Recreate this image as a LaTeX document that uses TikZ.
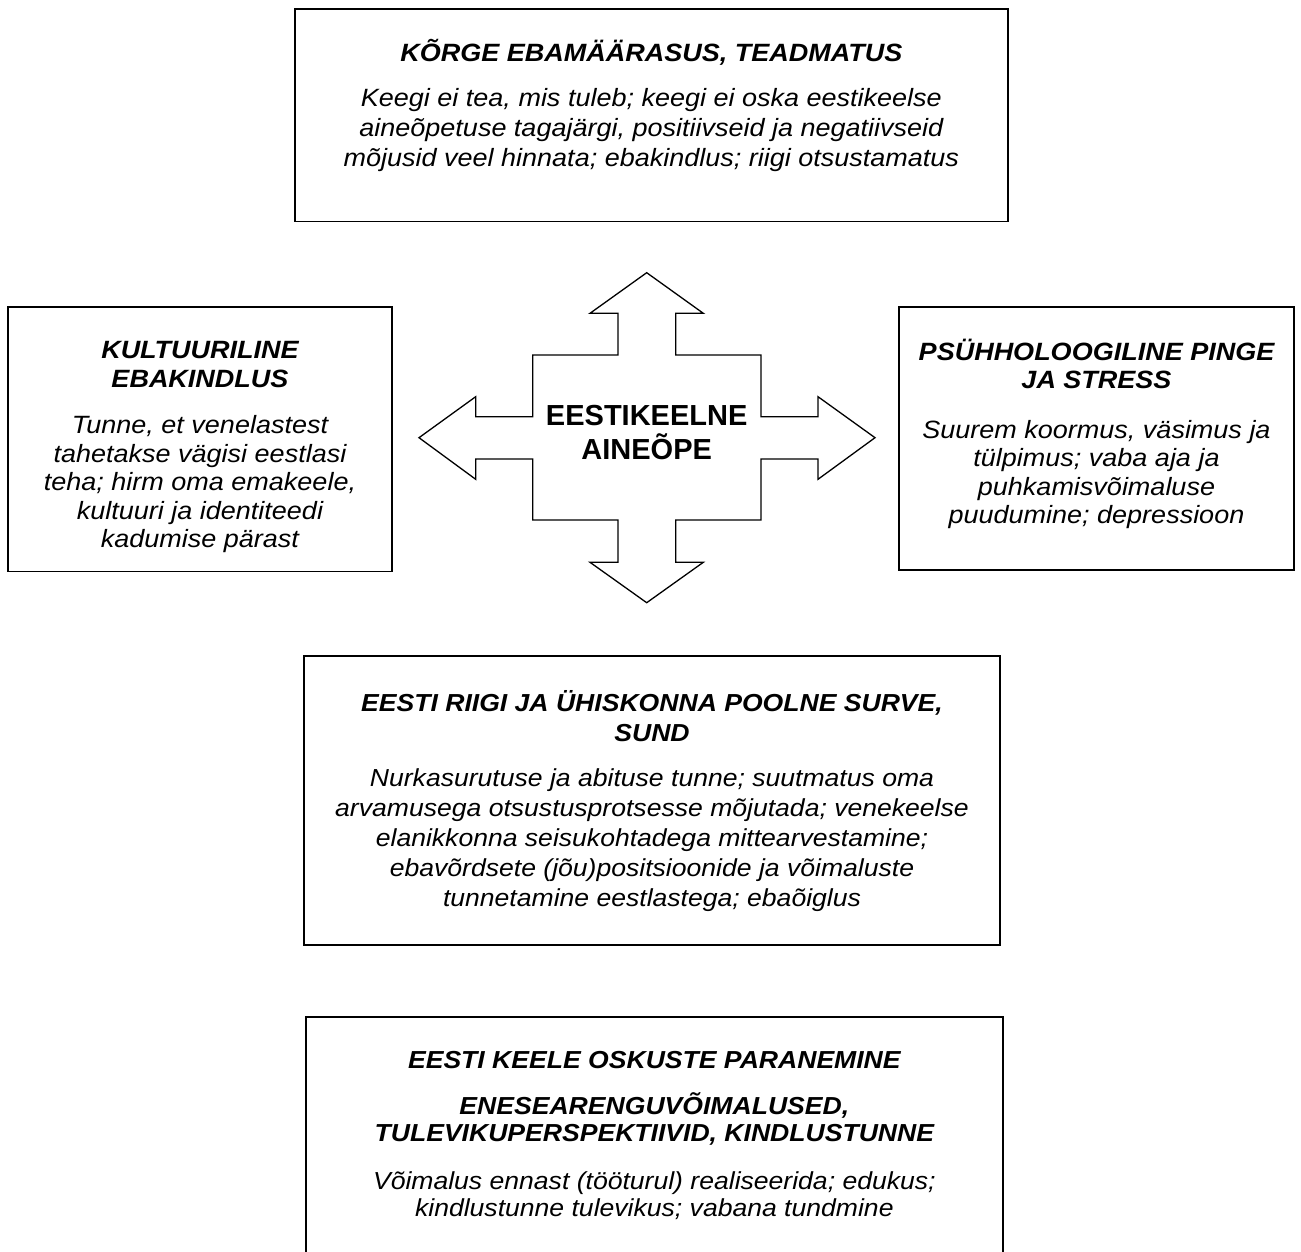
\documentclass[tikz,border=0pt]{standalone}
\usepackage{fontspec}
\setmainfont{Liberation Sans}[FakeStretch=1.08]
\newfontfamily\ctrfont{Liberation Sans}
\begin{document}
\begin{tikzpicture}[x=1pt,y=-1pt,
  box/.style={draw=black, line width=1.6pt, inner sep=0pt, fill=none},
  txt/.style={align=center, inner sep=0pt, font=\fontsize{25}{30}\selectfont\itshape},
  txtm/.style={align=center, inner sep=0pt, font=\fontsize{24.6}{30}\selectfont\itshape},
  txtn/.style={align=center, inner sep=0pt, font=\fontsize{25}{28.5}\selectfont\itshape},
  txtb/.style={align=center, inner sep=0pt, font=\fontsize{24.6}{27}\selectfont\itshape},
  ctr/.style={align=center, inner sep=0pt, font=\ctrfont\fontsize{29}{34}\selectfont\bfseries},
  arrowshape/.style={draw=black, line width=1.3pt, line join=miter}
]
\useasboundingbox (0,0) rectangle (1301,1252);
\fill[white] (0,0) rectangle (1301,1252);

% boxes
\node[box, minimum width=713.3pt, minimum height=212.4pt] (topbox) at (651.35,115.5) {};
\node[box, minimum width=384pt, minimum height=264.7pt] (leftbox) at (200,439.3) {};
\node[box, minimum width=395pt, minimum height=263pt] (rightbox) at (1096.5,438.5) {};
\node[box, minimum width=696pt, minimum height=289pt] (midbox) at (652,800.5) {};
\node[box, minimum width=696.7pt, minimum height=260pt] (botbox) at (654.35,1146.7) {};

% central cross arrow
\draw[arrowshape] (646.7,272.7) -- (703.3,313.3) -- (675.7,313.3) -- (675.7,355)
  -- (761,355) -- (761,416.7) -- (818,416.7) -- (818,396.7) -- (875,437.7)
  -- (818,479.3) -- (818,459) -- (761,459) -- (761,520) -- (675.7,520)
  -- (675.7,562.3) -- (703.3,562.3) -- (646.7,602.7) -- (590,562.3)
  -- (618,562.3) -- (618,520) -- (532.7,520) -- (532.7,459) -- (475.7,459)
  -- (475.7,479.3) -- (419,437.7) -- (475.7,396.7) -- (475.7,416.7)
  -- (532.7,416.7) -- (532.7,355) -- (618,355) -- (618,313.3) -- (590,313.3) -- cycle;

\node[ctr] (center) at (646.7,433) {EESTIKEELNE\\AINEÕPE};

% texts
\node[txt] (toptxt) at (651.35,105.5) {\textbf{KÕRGE EBAMÄÄRASUS, TEADMATUS}\\[15pt]
Keegi ei tea, mis tuleb; keegi ei oska eestikeelse\\
aineõpetuse tagajärgi, positiivseid ja negatiivseid\\
mõjusid veel hinnata; ebakindlus; riigi otsustamatus};

\node[txtn] (lefttxt) at (200,447) {\textbf{KULTUURILINE}\\\textbf{EBAKINDLUS}\\[18pt]
Tunne, et venelastest\\
tahetakse vägisi eestlasi\\
teha; hirm oma emakeele,\\
kultuuri ja identiteedi\\
kadumise pärast};

\node[txtn] (righttxt) at (1096.5,434) {\textbf{PSÜHHOLOOGILINE PINGE}\\\textbf{JA STRESS}\\[21pt]
Suurem koormus, väsimus ja\\
tülpimus; vaba aja ja\\
puhkamisvõimaluse\\
puudumine; depressioon};

\node[txtm] (midtxt) at (652,801) {\textbf{EESTI RIIGI JA ÜHISKONNA POOLNE SURVE,}\\\textbf{SUND}\\[15pt]
Nurkasurutuse ja abituse tunne; suutmatus oma\\
arvamusega otsustusprotsesse mõjutada; venekeelse\\
elanikkonna seisukohtadega mittearvestamine;\\
ebavõrdsete (jõu)positsioonide ja võimaluste\\
tunnetamine eestlastega; ebaõiglus};

\node[txtb] (bottxt) at (654.35,1135) {\textbf{EESTI KEELE OSKUSTE PARANEMINE}\\[19pt]
\textbf{ENESEARENGUVÕIMALUSED,}\\
\textbf{TULEVIKUPERSPEKTIIVID, KINDLUSTUNNE}\\[21pt]
Võimalus ennast (tööturul) realiseerida; edukus;\\
kindlustunne tulevikus; vabana tundmine};
\end{tikzpicture}
\end{document}
